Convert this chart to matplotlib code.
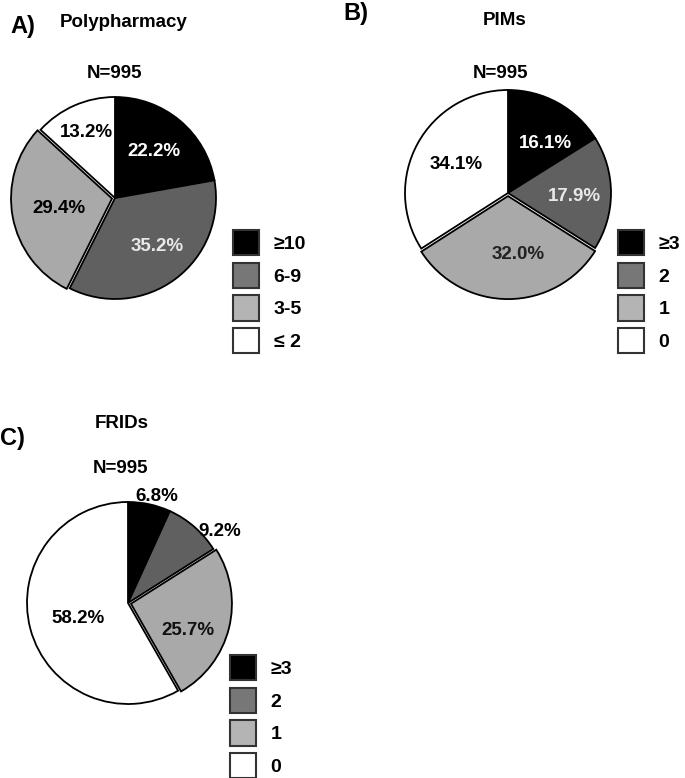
import matplotlib
matplotlib.use("Agg")
import numpy as np
import matplotlib.pyplot as plt
from matplotlib.patches import Patch

plt.rcParams['font.family'] = ['Liberation Sans', 'DejaVu Sans']
plt.rcParams['font.weight'] = 'bold'

W, H = 685, 778

COLORS = ["#000000", "#606060", "#a9a9a9", "#ffffff"]
LEGEND_COLORS = ["#000000", "#777777", "#b4b4b4", "#ffffff"]

poly_vals = [22.2, 35.2, 29.4, 13.2]
poly_labels = ["≥10", "6-9", "3-5", "≤ 2"]
pims_vals = [16.1, 17.9, 32.0, 34.1]
pims_labels = ["≥3", "2", "1", "0"]
frid_vals = [6.8, 9.2, 25.7, 58.2]
frid_labels = ["≥3", "2", "1", "0"]

# layout in pixels (from top-left); label distance (x radius) and angle nudge (deg)
panels = [
    dict(vals=poly_vals, labels=poly_labels, center=(115, 198), r=101,
         letter="A)", letter_xy=(10, 33), title="Polypharmacy", title_xy=(124, 27),
         n_xy=(115, 78), leg_xy=(233, 230),
         lab_d=[0.6, 0.64, 0.53, 0.71], lab_a=[0, 4, 0, 0],
         lab_c=["white", "#e8e8e8", "black", "black"]),
    dict(vals=pims_vals, labels=pims_labels, center=(508, 193), r=103,
         letter="B)", letter_xy=(343, 20), title="PIMs", title_xy=(505, 25),
         n_xy=(501, 78), leg_xy=(618, 230),
         lab_d=[0.6, 0.65, 0.58, 0.57], lab_a=[-8, -3, 10, 0],
         lab_c=["white", "#e8e8e8", "#222222", "black"]),
    dict(vals=frid_vals, labels=frid_labels, center=(128, 603), r=101,
         letter="C)", letter_xy=(0, 445), title="FRIDs", title_xy=(122, 428),
         n_xy=(121, 473), leg_xy=(230, 655),
         lab_d=[1.09, 1.15, 0.62, 0.52], lab_a=[-3, -11, -11, 2],
         lab_c=["black", "black", "#111111", "black"]),
]

fig = plt.figure(figsize=(W / 100, H / 100), dpi=100)
ax = fig.add_axes([0, 0, 1, 1])

for p in panels:
    cx, cy = p["center"]
    cy = H - cy
    r = p["r"]
    explode = [0, 0, 0.03 * r, 0]   # light-grey slice pulled out
    wedges, _ = ax.pie(p["vals"], colors=COLORS, startangle=90, counterclock=False,
                       explode=explode, center=(cx, cy), radius=r,
                       wedgeprops=dict(edgecolor="black", linewidth=1.3),
                       frame=True)
    for w, v, d, da, c in zip(wedges, p["vals"], p["lab_d"], p["lab_a"], p["lab_c"]):
        ang = np.deg2rad((w.theta1 + w.theta2) / 2 + da)
        wx, wy = w.center
        ax.text(wx + d * r * np.cos(ang), wy + d * r * np.sin(ang), f"{v:.1f}%",
                ha="center", va="center", fontsize=13.5, color=c, fontweight="bold")

    lx, ly = p["letter_xy"]
    ax.text(lx, H - ly, p["letter"], fontsize=17, fontweight="bold",
            ha="left", va="baseline")
    tx, ty = p["title_xy"]
    ax.text(tx, H - ty, p["title"], fontsize=13.5, fontweight="bold",
            ha="center", va="baseline")
    nx, ny = p["n_xy"]
    ax.text(nx, H - ny, "N=995", fontsize=13.5, fontweight="bold",
            ha="center", va="baseline")

    handles = [Patch(facecolor=c, edgecolor="#333333", linewidth=1.5)
               for c in LEGEND_COLORS]
    gx, gy = p["leg_xy"]
    fig.legend(handles, p["labels"], loc="upper left",
               bbox_to_anchor=(gx / W, 1 - gy / H), frameon=False,
               handlelength=1.34, handleheight=1.61,
               labelspacing=0.39, handletextpad=0.75,
               borderpad=0, borderaxespad=0, prop=dict(weight="bold", size=14))

ax.set_xlim(0, W)
ax.set_ylim(0, H)
ax.set_aspect("equal")
ax.axis("off")

fig.savefig("out.png", dpi=100)
